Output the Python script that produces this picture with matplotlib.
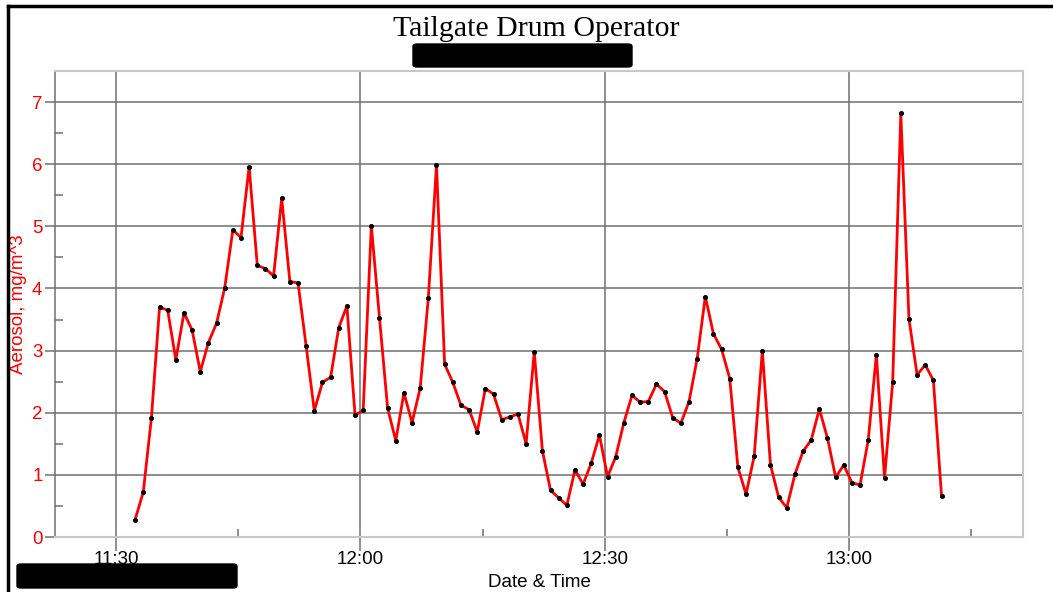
#!/usr/bin/env python

"""
Tailgate drum operator - aerosol concentration over time
"""

import pandas as pd
import matplotlib
matplotlib.use('Agg')
import matplotlib.pyplot as plt
import matplotlib.dates as mdates
from matplotlib.patches import FancyBboxPatch
from matplotlib.lines import Line2D


# Aerosol readings (mg/m^3), one per minute starting 11:32:20
aerosol = [
    0.28, 0.72, 1.91, 3.70, 3.65, 2.85, 3.61, 3.33, 2.66, 3.13,
    3.44, 4.01, 4.94, 4.82, 5.96, 4.37, 4.32, 4.20, 5.45, 4.11,
    4.09, 3.07, 2.03, 2.49, 2.57, 3.37, 3.72, 1.96, 2.04, 5.01,
    3.53, 2.07, 1.55, 2.32, 1.84, 2.40, 3.85, 5.99, 2.78, 2.49,
    2.12, 2.05, 1.69, 2.39, 2.30, 1.89, 1.93, 1.98, 1.50, 2.98,
    1.39, 0.75, 0.63, 0.51, 1.08, 0.85, 1.19, 1.64, 0.97, 1.29,
    1.84, 2.28, 2.17, 2.18, 2.46, 2.34, 1.92, 1.83, 2.18, 2.87,
    3.87, 3.27, 3.02, 2.55, 1.12, 0.69, 1.30, 3.00, 1.16, 0.64,
    0.47, 1.01, 1.38, 1.56, 2.06, 1.59, 0.96, 1.16, 0.87, 0.84,
    1.56, 2.93, 0.95, 2.49, 6.82, 3.51, 2.61, 2.77, 2.52, 0.66,
]
start = '2013-11-20 11:32:20'
times = pd.date_range(start, periods=len(aerosol), freq='1min')

yticks = [0, 1, 2, 3, 4, 5, 6, 7]
xlim = (pd.Timestamp('2013-11-20 11:22:30'), pd.Timestamp('2013-11-20 13:21:20'))

W, H = 1053, 592
fig = plt.figure(figsize=(W / 100, H / 100), dpi=100)
fig.patch.set_facecolor('white')

# axes placed by pixel box
left, right, top, bottom = 55, 1023, 71, 537
ax = fig.add_axes([left / W, 1 - bottom / H, (right - left) / W, (bottom - top) / H])

grid_c = '#707070'
ax.plot(times, aerosol, '-', color='#ff0000', lw=2.0, zorder=3)
ax.plot(times, aerosol, 'o', color='black', ms=2.6, zorder=4)

ax.set_xlim(xlim)
ax.set_ylim(0, 7.5)
ax.set_yticks(yticks)
ax.set_yticks([0.5 + i for i in range(7)], minor=True)

ax.xaxis.set_major_locator(mdates.MinuteLocator(byminute=[0, 30]))
ax.xaxis.set_minor_locator(mdates.MinuteLocator(byminute=[15, 45]))
ax.xaxis.set_major_formatter(mdates.DateFormatter('%H:%M'))

ax.grid(True, which='major', color=grid_c, lw=1.1, zorder=1)
for s in ['top', 'right', 'bottom']:
    ax.spines[s].set_color('#c8c8c8')
    ax.spines[s].set_linewidth(1.5)
ax.spines['left'].set_color(grid_c)
ax.spines['left'].set_linewidth(1.1)

ax.tick_params(axis='y', which='major', direction='out', length=7, width=1.1,
               color=grid_c, labelcolor='#ff0000', labelsize=13.5, pad=2)
ax.tick_params(axis='y', which='minor', direction='in', length=6, width=1.1, color=grid_c)
ax.tick_params(axis='x', which='major', direction='out', length=10, width=1.1,
               color=grid_c, labelcolor='black', labelsize=13.5, pad=0)
ax.tick_params(axis='x', which='minor', direction='in', length=6, width=1.1, color=grid_c)
for lab in ax.get_xticklabels() + ax.get_yticklabels():
    lab.set_fontfamily('Liberation Sans')

ax.set_ylabel('Aerosol, mg/m^3', color='#ff0000', fontsize=13.5,
              fontfamily='Liberation Sans')
ax.yaxis.set_label_coords(-0.029, 0.5)
ax.set_xlabel('Date & Time', color='black', fontsize=13.5,
              fontfamily='Liberation Sans')
ax.xaxis.set_label_coords(0.5, -0.079)

fig.text(536 / W, 1 - 29 / H, 'Tailgate Drum Operator', ha='center', va='center',
         fontsize=21.5, fontfamily='Liberation Serif')

# outer frame of the screenshot
fig.add_artist(Line2D([8 / W, 8 / W], [0, 1 - 6 / H], color='black', lw=2.5,
                      transform=fig.transFigure))
fig.add_artist(Line2D([8 / W, 1], [1 - 6 / H, 1 - 6 / H], color='black', lw=2.5,
                      transform=fig.transFigure))

# redaction boxes
for x0, y0, x1, y1 in [(413, 44, 632, 67), (17, 564, 237, 588)]:
    fig.add_artist(FancyBboxPatch((x0 / W, 1 - y1 / H), (x1 - x0) / W, (y1 - y0) / H,
                                  boxstyle='round,pad=0,rounding_size=0.004',
                                  facecolor='black', edgecolor='black',
                                  transform=fig.transFigure, zorder=10))

fig.savefig('out.png', dpi=100)
